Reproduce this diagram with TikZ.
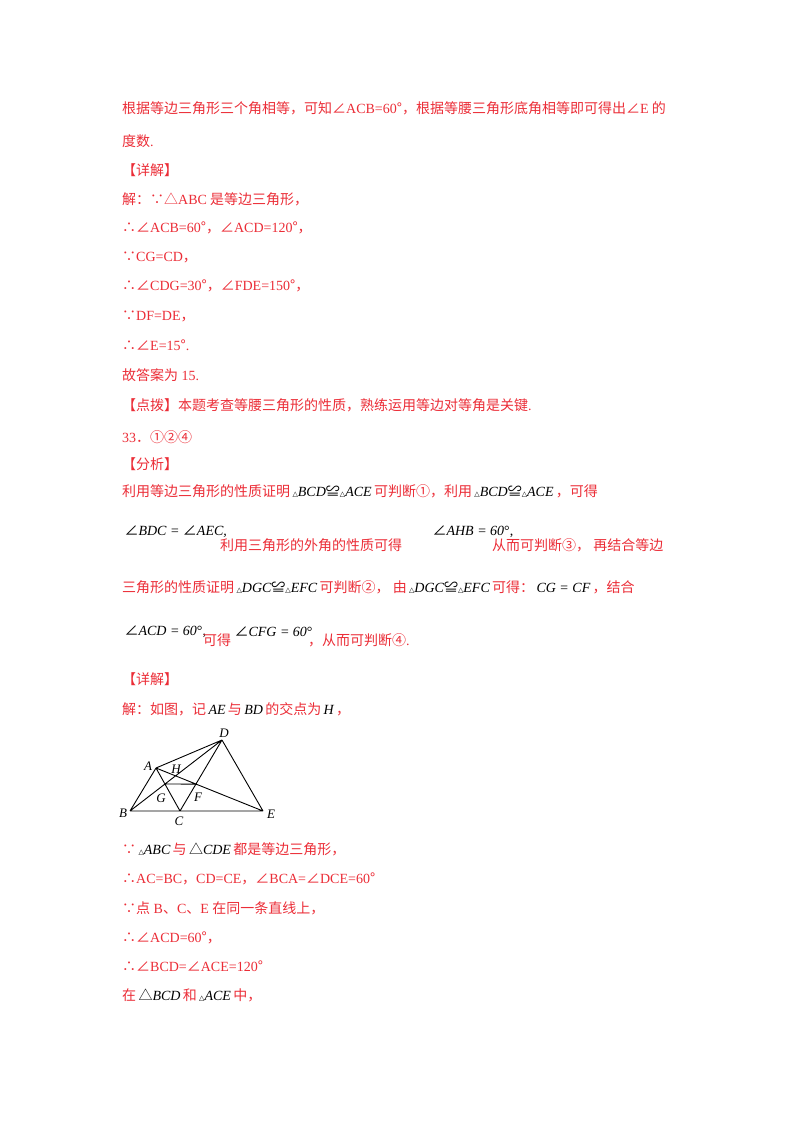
\documentclass[tikz,border=0pt]{standalone}
\usepackage{fontspec}
\setmainfont{Liberation Serif}
\newfontfamily\cjk{Noto Sans CJK SC}
\newfontfamily\sym{DejaVu Sans}
\usetikzlibrary{intersections}
\definecolor{red0}{RGB}{235,45,55}
\newcommand\zh[1]{{\cjk #1}}
\newcommand\mth[1]{\,{\color{black}\itshape #1}\,}
\newcommand\tri{{\upshape\sym\fontsize{7}{8}\selectfont△}}
\newcommand\ang{{\upshape\cjk ∠}}
\newcommand\cgr{{\upshape\cjk ≌}}
\begin{document}
\begin{tikzpicture}[x=1pt,y=-1pt,
  t/.style={anchor=west,inner sep=0pt,text=red0,font=\fontsize{14}{16}\selectfont},
  pt/.style={font=\fontsize{13}{15}\selectfont\itshape,inner sep=1pt},
  seg/.style={line width=0.9pt}]
\useasboundingbox (0,0) rectangle (800,1132);
\node[t] (l1) at (122,108) {\zh{根据等边三角形三个角相等，可知∠}ACB=60\zh{°，根据等腰三角形底角相等即可得出∠}E\zh{ 的}};
\node[t] (l2) at (122,141) {\zh{度数}.};
\node[t] (l3) at (122,170) {\zh{【详解】}};
\node[t] (l4) at (122,199) {\zh{解：∵△}ABC\zh{ 是等边三角形，}};
\node[t] (l5) at (122,228) {\zh{∴∠}ACB=60\zh{°，∠}ACD=120\zh{°，}};
\node[t] (l6) at (122,257) {\zh{∵}CG=CD\zh{，}};
\node[t] (l7) at (122,286) {\zh{∴∠}CDG=30\zh{°，∠}FDE=150\zh{°，}};
\node[t] (l8) at (122,316) {\zh{∵}DF=DE\zh{，}};
\node[t] (l9) at (122,345) {\zh{∴∠}E=15\zh{°}.};
\node[t] (l10) at (122,375) {\zh{故答案为} 15.};
\node[t] (l11) at (122,405) {\zh{【点拨】本题考查等腰三角形的性质，熟练运用等边对等角是关键}.};
\node[t] (l12) at (122,437) {33\zh{．①②④}};
\node[t] (l13) at (122,464) {\zh{【分析】}};
\node[t] (l14) at (122,491) {\zh{利用等边三角形的性质证明}\mth{\tri BCD\cgr\tri ACE}\zh{可判断①，利用}\mth{\tri BCD\cgr\tri ACE}\zh{，可得}};
\node[t] (l15a) at (122,532) {\mth{\ang BDC = \ang AEC,}};
\node[t] (l15b) at (220,545) {\zh{利用三角形的外角的性质可得}};
\node[t] (l15c) at (430,532) {\mth{\ang AHB = 60\upshape°,}};
\node[t] (l15d) at (492,545) {\zh{从而可判断③，\ 再结合等边}};
\node[t] (l16) at (122,587) {\zh{三角形的性质证明}\mth{\tri DGC\cgr\tri EFC}\zh{可判断②，\ 由}\mth{\tri DGC\cgr\tri EFC}\zh{可得：}\mth{CG = CF}\zh{，结合}};
\node[t] (l17a) at (122,632) {\mth{\ang ACD = 60\upshape°,}};
\node[t] (l17b) at (203,640) {\zh{可得}};
\node[t] (l17c) at (232,632) {\mth{\ang CFG = 60\upshape°}};
\node[t] (l17d) at (308,640) {\zh{，从而可判断④}.};
\node[t] (l18) at (122,679) {\zh{【详解】}};
\node[t] (l19) at (122,709) {\zh{解：如图，记}\mth{AE}\zh{与}\mth{BD}\zh{的交点为}\mth{H}\zh{，}};
% figure
\coordinate (B) at (130,811);
\coordinate (C) at (180,811);
\coordinate (E) at (263,811);
\coordinate (D) at (222,740);
\coordinate (A) at (156,768);
\path[name path=AC] (A)--(C);
\path[name path=BD] (B)--(D);
\path[name path=AE] (A)--(E);
\path[name path=CD] (C)--(D);
\path[name intersections={of=AC and BD,by=G}];
\path[name intersections={of=AE and CD,by=F}];
\path[name intersections={of=AE and BD,by=H}];
\draw[seg] (B)--(E) (B)--(A) (A)--(C) (A)--(D) (A)--(E) (B)--(D) (C)--(D) (D)--(E) (G)--(F);
\node[pt] (nA) at (148,766) {A};
\node[pt] (nB) at (123,813) {B};
\node[pt] (nC) at (179,821) {C};
\node[pt] (nD) at (224,733) {D};
\node[pt] (nE) at (271,814) {E};
\node[pt] (nH) at (176,769) {H};
\node[pt] (nG) at (161,798) {G};
\node[pt] (nF) at (198,797) {F};
\node[t] (l20) at (122,849) {\zh{∵}\mth{\tri ABC}\zh{与}\mth{{\upshape\cjk △}CDE}\zh{都是等边三角形，}};
\node[t] (l21) at (122,879) {\zh{∴}AC=BC\zh{，}CD=CE\zh{，∠}BCA=\zh{∠}DCE=60\zh{°}};
\node[t] (l22) at (122,908) {\zh{∵点} B\zh{、}C\zh{、}E \zh{在同一条直线上，}};
\node[t] (l23) at (122,938) {\zh{∴∠}ACD=60\zh{°，}};
\node[t] (l24) at (122,966) {\zh{∴∠}BCD=\zh{∠}ACE=120\zh{°}};
\node[t] (l25) at (122,995) {\zh{在}\mth{{\upshape\cjk △}BCD}\zh{和}\mth{\tri ACE}\zh{中，}};
\end{tikzpicture}
\end{document}
